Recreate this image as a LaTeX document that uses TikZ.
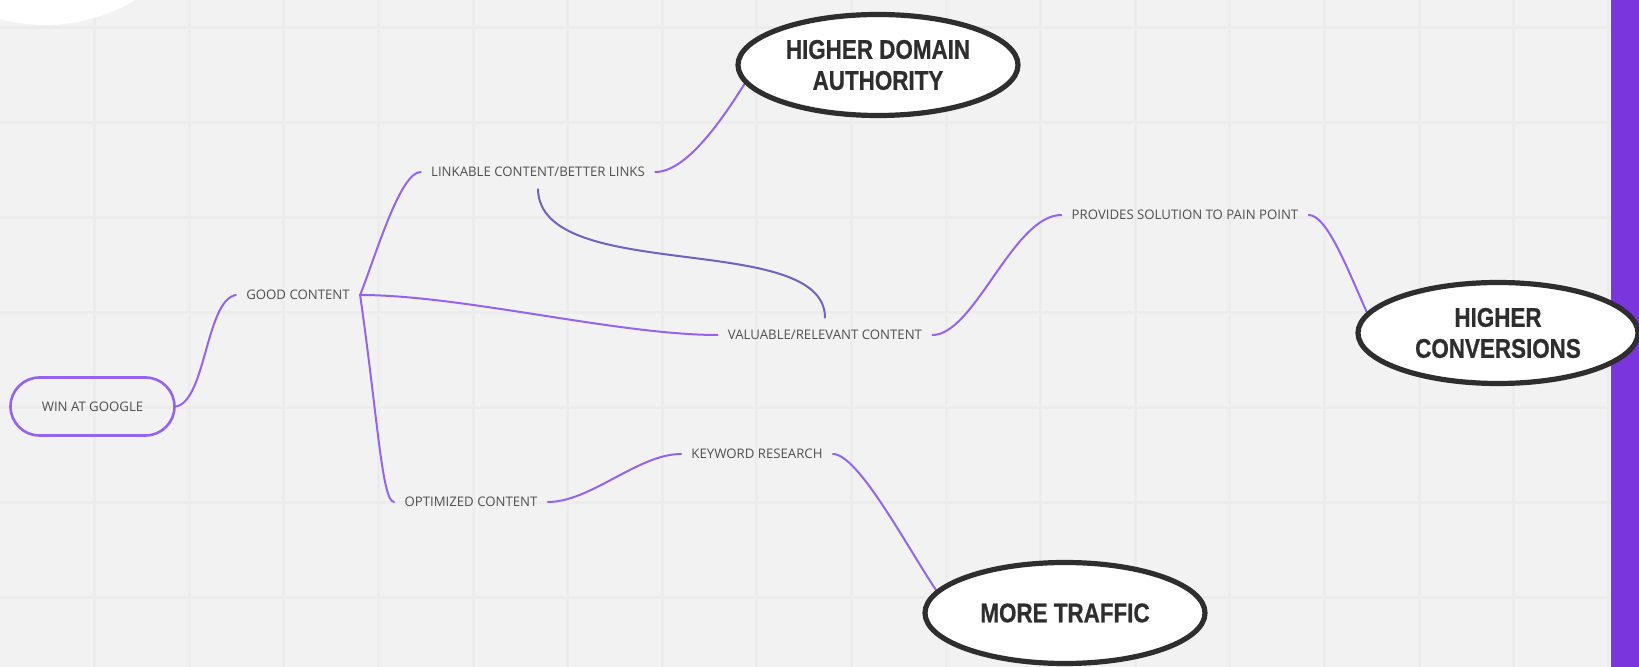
\documentclass[tikz,border=0pt]{standalone}
\usepackage{fontspec}
\usetikzlibrary{shapes.geometric}
\newfontfamily\labelfont{Open Sans}
\newfontfamily\goalfont[FakeStretch=0.83,FakeBold=0.6]{Liberation Sans}
\definecolor{canvas}{HTML}{F2F2F2}
\definecolor{gridline}{HTML}{ECECEC}
\definecolor{branch}{HTML}{9464F0}
\definecolor{crosslink}{HTML}{7460BE}
\definecolor{labelgray}{HTML}{505050}
\definecolor{goalink}{HTML}{2E2E2E}
\definecolor{sidebar}{HTML}{7A36DC}
\pgfdeclarelayer{back}
\pgfdeclarelayer{links}
\pgfsetlayers{back,links,main}
\begin{document}
\begin{tikzpicture}[x=0.5pt,y=-0.5pt,
  topic/.style={font=\labelfont\fontsize{6.6}{8}\selectfont, text=labelgray,
    inner xsep=5pt, inner ysep=2pt},
  rootbox/.style={topic, draw=branch, line width=1.3pt, rounded corners=14.5pt,
    minimum width=82pt, minimum height=29pt},
  goal/.style={ellipse, draw=goalink, line width=2.6pt, fill=white,
    minimum width=140pt, minimum height=50.5pt, inner sep=0pt, align=center,
    font=\goalfont\bfseries\fontsize{13.5}{15.5}\selectfont, text=goalink},
  link/.style={draw=branch, line width=1pt, line cap=round},
  cross/.style={draw=crosslink, line width=1pt, line cap=round}]
\useasboundingbox (0,0) rectangle (1639,667);

% canvas, grid, corner disc and side bar
\begin{pgfonlayer}{back}
  \begin{scope}
    \clip (0,0) rectangle (1639,667);
    \fill[canvas] (0,0) rectangle (1639,667);
    \foreach \k in {1,...,17} \draw[gridline, line width=1.5pt] (94.6*\k,0) -- (94.6*\k,667);
    \foreach \k in {0,...,6} \draw[gridline, line width=1.5pt] (0,28+95*\k) -- (1639,28+95*\k);
    \fill[white] (45,-150) circle[radius=175];
    \fill[sidebar] (1611,0) rectangle (1639,667);
  \end{scope}
\end{pgfonlayer}

% topics
\node[rootbox] (win) at (92.5,406.5) {WIN AT GOOGLE};
\node[topic] (good) at (298,295) {GOOD CONTENT};
\node[topic] (linkable) at (538,172) {LINKABLE CONTENT/BETTER LINKS};
\node[topic] (valuable) at (825,335) {VALUABLE/RELEVANT CONTENT};
\node[topic] (solution) at (1185,215) {PROVIDES SOLUTION TO PAIN POINT};
\node[topic] (optimized) at (471,502) {OPTIMIZED CONTENT};
\node[topic] (keyword) at (757,454) {KEYWORD RESEARCH};

% outcomes
\node[goal] (authority) at (878,65) {HIGHER DOMAIN\\AUTHORITY};
\node[goal] (conversions) at (1498,333) {HIGHER\\CONVERSIONS};
\node[goal] (traffic) at (1065,613) {MORE TRAFFIC};

\coordinate (hub) at (good.east);

% branches
\begin{pgfonlayer}{links}
  \draw[link] (win.east) .. controls +(30,-5) and +(-30,5) .. (good.west);
  \draw[link] (hub) .. controls (376,255) and (400,172) .. (linkable.west);
  \draw[link] (hub) .. controls (462,295) and (618,335) .. (valuable.west);
  \draw[link] (hub) .. controls (378,420) and (382,502) .. (optimized.west);
  \draw[link] (linkable.east) .. controls +(30,0) and +(-25,40) .. (authority.188);
  \draw[cross] ([yshift=-4pt]linkable.south) .. controls (540,285) and (825,230) .. ([yshift=4pt]valuable.north);
  \draw[link] (valuable.east) .. controls +(42,0) and +(-48,0) .. (solution.west);
  \draw[link] (solution.east) .. controls +(18,0) and +(-20,-45) .. (conversions.171);
  \draw[link] (optimized.east) .. controls +(43,0) and +(-43,0) .. (keyword.west);
  \draw[link] (keyword.east) .. controls +(25,0) and +(-30,-45) .. (traffic.170);
\end{pgfonlayer}
\end{tikzpicture}
\end{document}
